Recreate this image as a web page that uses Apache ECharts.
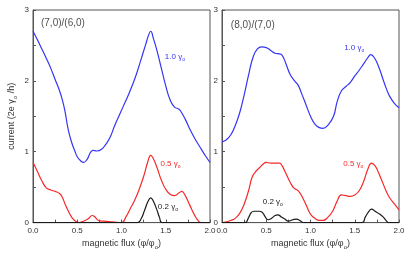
<!DOCTYPE html>
<html><head><meta charset="utf-8">
<script src="https://cdn.jsdelivr.net/npm/echarts@6/dist/echarts.min.js"></script>
<style>html,body{margin:0;padding:0;background:#fff}#c{width:409px;height:255px}</style>
</head><body><div id="c"></div>
<script>
// ---- data (x = magnetic flux φ/φ0, y = current) ----
var leftBlue = [[0,2.70],[0.05,2.58],[0.1,2.45],[0.15,2.32],[0.2,2.18],[0.25,2.02],[0.3,1.86],[0.33,1.74],[0.36,1.58],[0.4,1.30],[0.44,1.12],[0.47,1.02],[0.5,0.93],[0.54,0.87],[0.57,0.85],[0.61,0.89],[0.65,0.99],[0.68,1.02],[0.72,1.01],[0.77,1.03],[0.82,1.1],[0.87,1.2],[0.92,1.36],[0.97,1.5],[1.02,1.64],[1.07,1.78],[1.12,1.93],[1.17,2.1],[1.22,2.3],[1.27,2.5],[1.31,2.66],[1.33,2.7],[1.36,2.6],[1.4,2.43],[1.45,2.18],[1.5,1.93],[1.55,1.73],[1.6,1.63],[1.65,1.6],[1.68,1.55],[1.72,1.46],[1.78,1.3],[1.85,1.14],[1.9,1.04],[1.95,0.94],[2.0,0.85]];
var leftRed = [[0,0.85],[0.05,0.72],[0.1,0.59],[0.15,0.49],[0.2,0.46],[0.25,0.44],[0.3,0.41],[0.33,0.36],[0.36,0.27],[0.4,0.16],[0.44,0.07],[0.48,0.02],[0.52,0.0],[0.57,0.02],[0.62,0.05],[0.67,0.1],[0.7,0.08],[0.74,0.03],[0.8,0.02],[0.9,0.01],[1.0,0.0],[1.05,0.08],[1.1,0.2],[1.15,0.32],[1.2,0.47],[1.25,0.65],[1.3,0.87],[1.33,0.95],[1.36,0.9],[1.4,0.78],[1.45,0.6],[1.5,0.47],[1.55,0.4],[1.6,0.38],[1.65,0.42],[1.68,0.44],[1.72,0.38],[1.77,0.25],[1.82,0.12],[1.87,0.02],[1.9,0.0],[2.0,0.0]];
var leftBlack = [[0,0],[1.18,0],[1.22,0.05],[1.26,0.17],[1.3,0.3],[1.33,0.35],[1.36,0.3],[1.4,0.18],[1.43,0.07],[1.46,0.0],[2.0,0]];
var rightBlue = [[0,1.14],[0.05,1.17],[0.1,1.24],[0.15,1.37],[0.2,1.55],[0.25,1.8],[0.3,2.08],[0.35,2.33],[0.4,2.45],[0.45,2.48],[0.5,2.47],[0.55,2.43],[0.6,2.39],[0.65,2.38],[0.68,2.36],[0.72,2.25],[0.77,2.09],[0.82,2.0],[0.86,1.94],[0.9,1.82],[0.95,1.66],[1.0,1.5],[1.05,1.39],[1.1,1.34],[1.14,1.33],[1.2,1.38],[1.26,1.5],[1.3,1.7],[1.35,1.86],[1.4,1.92],[1.45,1.98],[1.5,2.07],[1.55,2.15],[1.6,2.24],[1.65,2.33],[1.68,2.37],[1.72,2.33],[1.77,2.2],[1.82,2.02],[1.86,1.88],[1.9,1.77],[1.95,1.68],[2.0,1.62]];
var rightRed = [[0,0.0],[0.05,0.01],[0.1,0.03],[0.15,0.06],[0.2,0.13],[0.25,0.26],[0.3,0.45],[0.34,0.64],[0.38,0.72],[0.42,0.77],[0.46,0.82],[0.5,0.85],[0.55,0.84],[0.6,0.84],[0.65,0.84],[0.68,0.8],[0.72,0.7],[0.77,0.57],[0.81,0.49],[0.85,0.46],[0.88,0.42],[0.92,0.33],[0.96,0.22],[1.0,0.12],[1.05,0.06],[1.1,0.03],[1.14,0.03],[1.2,0.08],[1.25,0.16],[1.3,0.3],[1.35,0.39],[1.4,0.38],[1.45,0.37],[1.5,0.39],[1.55,0.45],[1.6,0.58],[1.65,0.76],[1.69,0.84],[1.73,0.8],[1.77,0.7],[1.82,0.55],[1.86,0.43],[1.9,0.34],[1.95,0.26],[2.0,0.18]];
var rightBlack = [[0,0],[0.26,0],[0.3,0.07],[0.33,0.14],[0.36,0.16],[0.42,0.16],[0.45,0.15],[0.48,0.1],[0.52,0.04],[0.56,0.06],[0.6,0.1],[0.63,0.11],[0.67,0.08],[0.71,0.05],[0.75,0.02],[0.8,0.04],[0.84,0.05],[0.88,0.03],[0.92,0.0],[1.58,0],[1.62,0.08],[1.66,0.16],[1.69,0.19],[1.73,0.16],[1.78,0.12],[1.82,0.08],[1.86,0.02],[1.88,0],[2.0,0]];
var panelTitles = ['(7,0)/(6,0)', '(8,0)/(7,0)'];
var curveLabels = ['1.0', '0.5', '0.2'];
var xTicks = [0, 0.5, 1.0, 1.5, 2.0];
var yTicks = [0, 1, 2, 3];

var FONT = 'Liberation Sans, Arial, Helvetica, sans-serif';
var frame = '#555';
function richLabel(c) {
  return {
    n: {fontSize: 8, fontFamily: FONT, color: c},
    s: {fontSize: 5, fontFamily: FONT, color: c, padding: [5, 0, 0, 0]}
  };
}
function xAxis(idx) {
  return {
    gridIndex: idx, type: 'value', min: xTicks[0], max: xTicks[xTicks.length - 1], interval: 0.5,
    axisLine: {show: true, lineStyle: {color: frame, width: 1}},
    axisTick: {show: true, inside: true, length: 3, lineStyle: {color: frame}},
    minorTick: {show: true, splitNumber: 2, length: 3, lineStyle: {color: frame}},
    splitLine: {show: false},
    axisLabel: {color: '#333', fontSize: 8, fontFamily: FONT, margin: 4,
      formatter: function (v) { return v.toFixed(1); }},
    name: '{n|magnetic flux (φ/φ}{s|o}{n|)}', nameLocation: 'middle', nameGap: 13,
    nameTextStyle: {color: '#333', fontSize: 9, fontFamily: FONT,
      rich: {n: {fontSize: 9, fontFamily: FONT, color: '#333'}, s: {fontSize: 6, fontFamily: FONT, color: '#333', padding: [6, 0, 0, 0]}}}
  };
}
function yAxis(idx) {
  var a = {
    gridIndex: idx, type: 'value', min: yTicks[0], max: yTicks[yTicks.length - 1], interval: 1,
    axisLine: {show: true, lineStyle: {color: frame, width: 1}},
    axisTick: {show: true, inside: true, length: 3, lineStyle: {color: frame}},
    minorTick: {show: true, splitNumber: 2, length: 3, lineStyle: {color: frame}},
    splitLine: {show: false},
    axisLabel: {color: '#333', fontSize: 8, fontFamily: FONT, margin: 4}
  };
  if (idx === 0) {
    a.name = '{n|current (2e γ}{s|o}{n| /h)}';
    a.nameLocation = 'middle';
    a.nameGap = 15;
    a.nameTextStyle = {color: '#333', fontSize: 9, fontFamily: FONT,
      rich: {n: {fontSize: 9, fontFamily: FONT, color: '#333'}, s: {fontSize: 6, fontFamily: FONT, color: '#333', padding: [6, 0, 0, 0]}}};
  }
  return a;
}
function curve(idx, data, color, labelText, labelCoord) {
  var s = {
    type: 'line', xAxisIndex: idx, yAxisIndex: idx, data: data, showSymbol: false,
    smooth: 0.5,
    lineStyle: {color: color, width: 1.2}, itemStyle: {color: color}, animation: false, z: 3
  };
  if (labelText) {
    s.markPoint = {
      symbol: 'circle', symbolSize: 0, animation: false,
      data: [{coord: labelCoord, value: labelText}],
      label: {show: true, position: 'right', distance: 0,
        formatter: '{n|' + labelText + ' γ}{s|o}', rich: richLabel(color)}
    };
  }
  return s;
}
function titleSeries(idx, text, coord) {
  return {
    type: 'scatter', xAxisIndex: idx, yAxisIndex: idx, symbolSize: 0, silent: true, animation: false,
    data: [coord],
    label: {show: true, position: 'right', distance: 0, formatter: text,
      color: '#222', fontSize: 10, fontFamily: FONT}
  };
}
var blue = '#3535f5', red = '#f52a2a', black = '#1a1a1a';
var option = {
  backgroundColor: '#fff',
  animation: false,
  grid: [
    {left: 33, right: 199, top: 10, bottom: 31.5, show: true, borderColor: frame, borderWidth: 1},
    {left: 222, right: 10, top: 10, bottom: 31.5, show: true, borderColor: frame, borderWidth: 1}
  ],
  xAxis: [xAxis(0), xAxis(1)],
  yAxis: [yAxis(0), yAxis(1)],
  series: [
    curve(0, leftBlue, blue, curveLabels[0], [1.49, 2.34]),
    curve(0, leftRed, red, curveLabels[1], [1.44, 0.83]),
    curve(0, leftBlack, black, curveLabels[2], [1.41, 0.22]),
    curve(1, rightBlue, blue, curveLabels[0], [1.38, 2.46]),
    curve(1, rightRed, red, curveLabels[1], [1.37, 0.83]),
    curve(1, rightBlack, black, curveLabels[2], [0.46, 0.29]),
    titleSeries(0, panelTitles[0], [0.09, 2.81]),
    titleSeries(1, panelTitles[1], [0.10, 2.78])
  ]
};
var chart = echarts.init(document.getElementById('c'), null, {renderer: 'canvas'});
chart.setOption(option);
</script></body></html>
